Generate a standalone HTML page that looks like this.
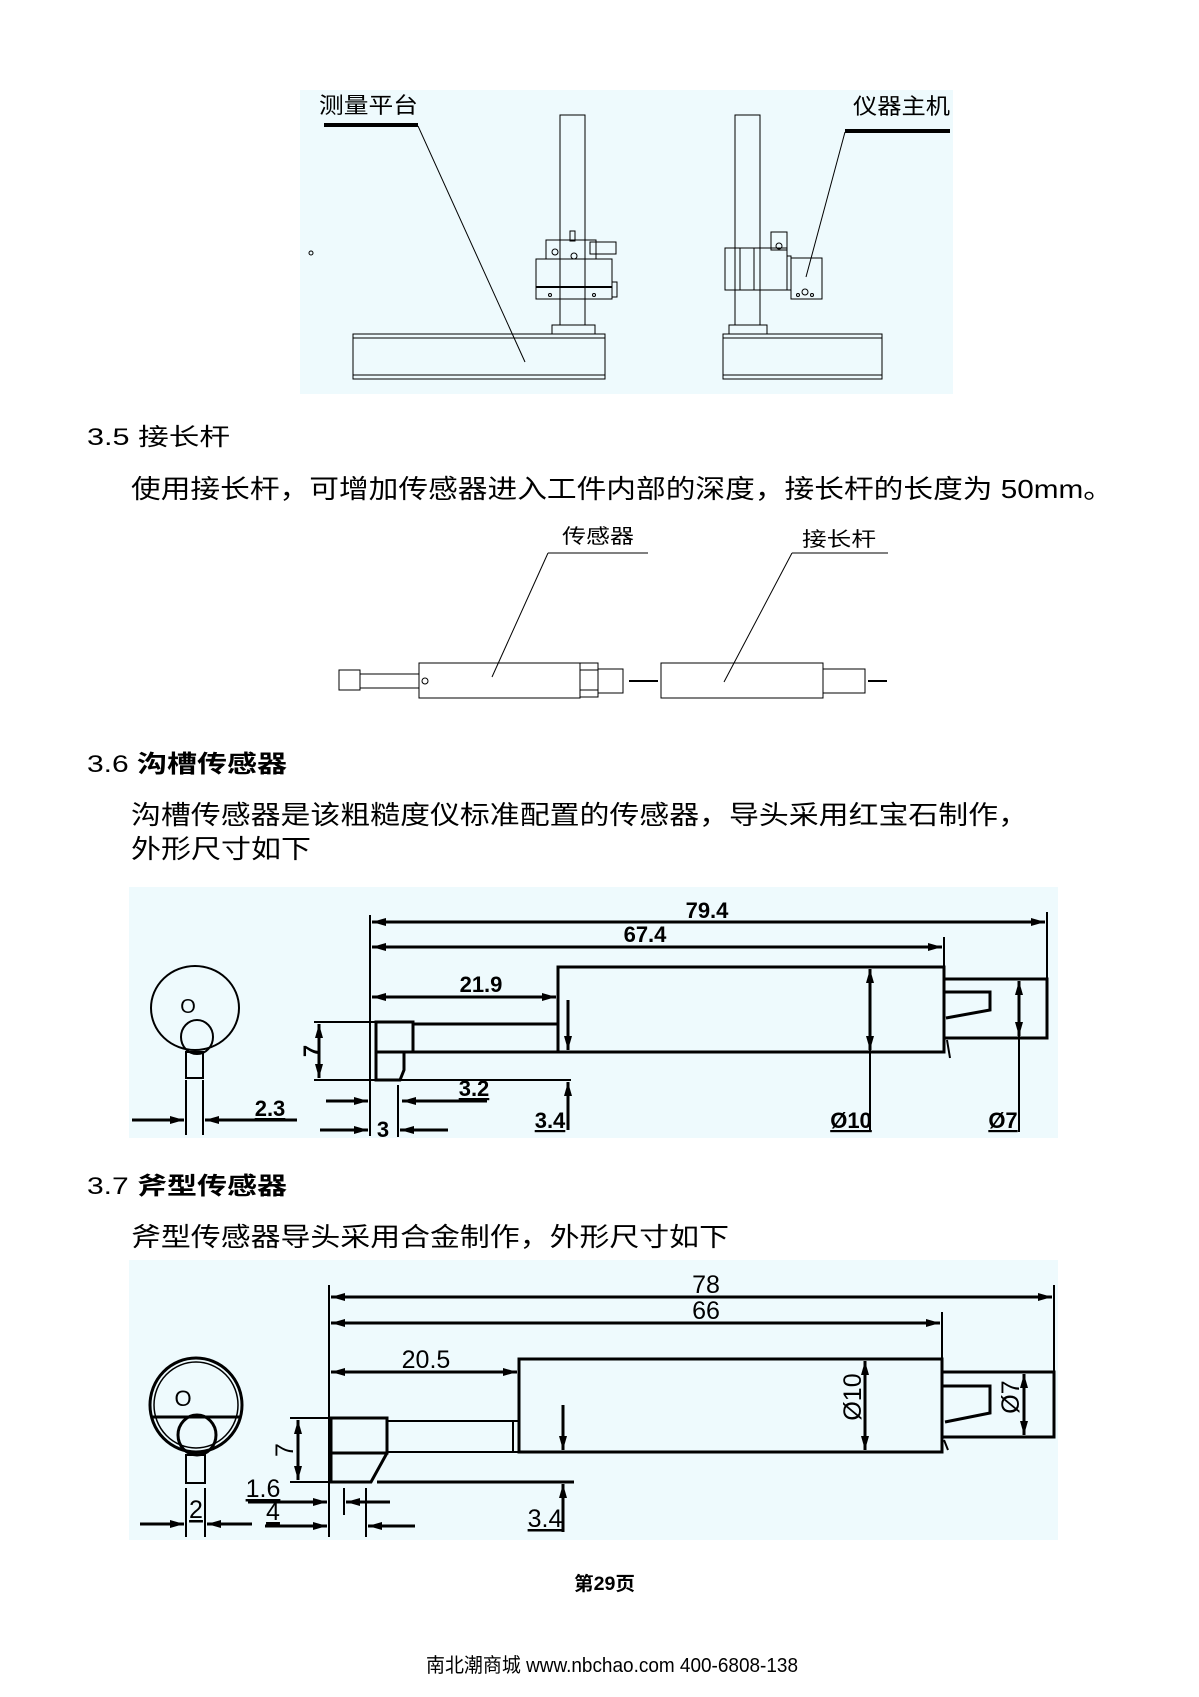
<!DOCTYPE html>
<html><head><meta charset="utf-8"><style>
html,body{margin:0;padding:0;background:#fff;}
svg{display:block;}
text{font-family:"Liberation Sans","Noto Sans CJK SC",sans-serif;fill:#000;}
</style></head><body>
<svg width="1199" height="1697" viewBox="0 0 1199 1697" xmlns="http://www.w3.org/2000/svg">
<defs>
<marker id="a" viewBox="0 0 14 10" refX="14" refY="5" markerWidth="14" markerHeight="10" markerUnits="userSpaceOnUse" orient="auto-start-reverse"><path d="M0,1 L14,5 L0,9 z" fill="#000"/></marker>
</defs>

<!-- Panel 1 -->
<rect x="300" y="90" width="653" height="304" fill="#eefafd"/>
<text x="319" y="113" font-size="22" textLength="99" lengthAdjust="spacingAndGlyphs" font-family="Noto Serif CJK SC,serif">测量平台</text>
<text x="853" y="114" font-size="22" textLength="97" lengthAdjust="spacingAndGlyphs" font-family="Noto Serif CJK SC,serif">仪器主机</text>
<line x1="324" y1="125" x2="418" y2="125" stroke="#000" stroke-width="4"/>
<line x1="845" y1="131" x2="950" y2="131" stroke="#000" stroke-width="4"/>
<g stroke="#000" stroke-width="1" fill="none">
<line x1="418" y1="126" x2="525" y2="362"/>
<line x1="845" y1="132" x2="806" y2="277"/>
<circle cx="311" cy="253" r="2"/>
<rect x="560" y="115" width="25" height="210"/>
<rect x="546" y="240" width="50" height="19"/>
<rect x="590" y="242" width="26" height="12"/>
<rect x="570" y="231" width="5" height="10"/>
<circle cx="555" cy="252" r="3"/>
<circle cx="574" cy="256" r="3"/>
<rect x="536" y="259" width="76" height="40"/>
<line x1="536" y1="287" x2="612" y2="287" stroke-width="2"/>
<rect x="612" y="282" width="5" height="15"/>
<circle cx="550" cy="295" r="1.5"/><circle cx="594" cy="295" r="1.5"/>
<rect x="552" y="325" width="43" height="9"/>
<rect x="353" y="334" width="252" height="45"/>
<line x1="353" y1="338" x2="605" y2="338"/><line x1="353" y1="375" x2="605" y2="375"/>
<rect x="735" y="115" width="25" height="210"/>
<rect x="725" y="248" width="62" height="42"/>
<line x1="740" y1="248" x2="740" y2="290"/><line x1="754" y1="248" x2="754" y2="290"/>
<rect x="771" y="232" width="16" height="18"/>
<circle cx="779" cy="246" r="3"/>
<rect x="787" y="256" width="4" height="34"/>
<rect x="791" y="258" width="31" height="41"/>
<circle cx="805" cy="292" r="3"/><circle cx="798" cy="295" r="1.5"/><circle cx="812" cy="295" r="1.5"/>
<rect x="729" y="325" width="38" height="9"/>
<rect x="723" y="334" width="159" height="45"/>
<line x1="723" y1="338" x2="882" y2="338"/><line x1="723" y1="375" x2="882" y2="375"/>
</g>

<!-- 3.5 -->
<text x="87" y="445" font-size="24" textLength="143" lengthAdjust="spacingAndGlyphs">3.5  接长杆</text>
<text x="131" y="498" font-size="26" textLength="982" lengthAdjust="spacingAndGlyphs">使用接长杆，可增加传感器进入工件内部的深度，接长杆的长度为 50mm。</text>

<text x="562" y="543" font-size="20" textLength="72" lengthAdjust="spacingAndGlyphs" font-family="Noto Serif CJK SC,serif">传感器</text>
<text x="802" y="546" font-size="20" textLength="74" lengthAdjust="spacingAndGlyphs" font-family="Noto Serif CJK SC,serif">接长杆</text>
<g stroke="#000" stroke-width="1" fill="none">
<line x1="548" y1="553" x2="648" y2="553"/>
<line x1="792" y1="553" x2="888" y2="553"/>
<line x1="548" y1="553" x2="492" y2="677"/>
<line x1="792" y1="553" x2="724" y2="682"/>
<rect x="339" y="670" width="21" height="20"/>
<rect x="360" y="674" width="59" height="14"/>
<circle cx="425" cy="681" r="3"/>
<rect x="419" y="663" width="161" height="35"/>
<rect x="580" y="663" width="18" height="7"/>
<rect x="580" y="690" width="18" height="7"/>
<rect x="598" y="669" width="25" height="24"/>
<line x1="629" y1="681" x2="658" y2="681" stroke-width="2"/>
<rect x="661" y="663" width="162" height="35"/>
<rect x="823" y="669" width="42" height="24"/>
<line x1="868" y1="681" x2="887" y2="681" stroke-width="2"/>
</g>

<!-- 3.6 -->
<text x="87" y="772" font-size="24" textLength="200" lengthAdjust="spacingAndGlyphs"><tspan>3.6  </tspan><tspan font-weight="bold">沟槽传感器</tspan></text>
<text x="131" y="824" font-size="26" textLength="897" lengthAdjust="spacingAndGlyphs">沟槽传感器是该粗糙度仪标准配置的传感器，导头采用红宝石制作，</text>
<text x="131" y="858" font-size="26" textLength="180" lengthAdjust="spacingAndGlyphs">外形尺寸如下</text>

<rect x="129" y="887" width="929" height="251" fill="#eefafd"/>
<g stroke="#000" stroke-width="3" fill="none">
<line x1="370" y1="915" x2="370" y2="1136" stroke-width="2"/>
<line x1="1047" y1="912" x2="1047" y2="980" stroke-width="2"/>
<line x1="944" y1="937" x2="944" y2="967" stroke-width="2"/>
<line x1="372" y1="922" x2="1045" y2="922" marker-start="url(#a)" marker-end="url(#a)"/>
<line x1="372" y1="947" x2="942" y2="947" marker-start="url(#a)" marker-end="url(#a)"/>
<line x1="372" y1="997" x2="556" y2="997" marker-start="url(#a)" marker-end="url(#a)"/>
<rect x="558" y="967" width="386" height="85"/>
<line x1="568" y1="1000" x2="568" y2="1050" marker-end="url(#a)"/>
<line x1="870" y1="969" x2="870" y2="1050" marker-start="url(#a)" marker-end="url(#a)"/>
<line x1="870" y1="1050" x2="870" y2="1132" stroke-width="2"/>
<rect x="944" y="979" width="103" height="59"/>
<polyline points="944,992 990,992 990,1010 946,1018"/>
<line x1="947" y1="1040" x2="950" y2="1058" stroke-width="2"/>
<line x1="1019" y1="981" x2="1019" y2="1036" marker-start="url(#a)" marker-end="url(#a)"/>
<line x1="1019" y1="1036" x2="1019" y2="1132" stroke-width="2"/>
<line x1="413" y1="1024" x2="558" y2="1024"/>
<line x1="413" y1="1052" x2="558" y2="1052"/>
<rect x="376" y="1022" width="37" height="30"/>
<polyline points="376,1052 376,1080 400,1080 404,1070 404,1052"/>
<line x1="314" y1="1022" x2="376" y2="1022" stroke-width="2"/>
<line x1="314" y1="1080" x2="571" y2="1080" stroke-width="2"/>
<line x1="319" y1="1024" x2="319" y2="1078" marker-start="url(#a)" marker-end="url(#a)"/>
<line x1="568" y1="1130" x2="568" y2="1082" marker-end="url(#a)"/>
<line x1="398" y1="1085" x2="398" y2="1137" stroke-width="2"/>
<line x1="326" y1="1101" x2="368" y2="1101" marker-end="url(#a)"/>
<line x1="487" y1="1101" x2="402" y2="1101" marker-end="url(#a)"/>
<line x1="320" y1="1130" x2="368" y2="1130" marker-end="url(#a)"/>
<line x1="448" y1="1130" x2="400" y2="1130" marker-end="url(#a)"/>
<ellipse cx="195" cy="1008" rx="44" ry="42" stroke-width="2"/>
<ellipse cx="197" cy="1037" rx="16" ry="17" stroke-width="2"/>
<rect x="186" y="1052" width="17" height="26" stroke-width="2"/>
<line x1="186" y1="1080" x2="186" y2="1135" stroke-width="2"/>
<line x1="203" y1="1080" x2="203" y2="1135" stroke-width="2"/>
<line x1="132" y1="1120" x2="184" y2="1120" marker-end="url(#a)"/>
<line x1="297" y1="1120" x2="205" y2="1120" marker-end="url(#a)"/>
</g>
<g font-weight="bold" font-size="22">
<text x="707" y="918" text-anchor="middle">79.4</text>
<text x="645" y="942" text-anchor="middle">67.4</text>
<text x="481" y="992" text-anchor="middle">21.9</text>
<text x="188" y="1013" text-anchor="middle" font-weight="normal" font-size="20">O</text>
<text x="312" y="1058" text-anchor="middle" transform="rotate(-90 312 1051)">7</text>
<text x="474" y="1096" text-anchor="middle" text-decoration="underline">3.2</text>
<text x="383" y="1137" text-anchor="middle">3</text>
<text x="550" y="1128" text-anchor="middle" text-decoration="underline">3.4</text>
<text x="851" y="1128" text-anchor="middle" text-decoration="underline">Ø10</text>
<text x="1003" y="1128" text-anchor="middle" text-decoration="underline">Ø7</text>
<text x="270" y="1116" text-anchor="middle" text-decoration="underline">2.3</text>
</g>

<!-- 3.7 -->
<text x="87" y="1194" font-size="24" textLength="200" lengthAdjust="spacingAndGlyphs"><tspan>3.7  </tspan><tspan font-weight="bold">斧型传感器</tspan></text>
<text x="131" y="1246" font-size="26" textLength="598" lengthAdjust="spacingAndGlyphs">斧型传感器导头采用合金制作，外形尺寸如下</text>

<rect x="129" y="1260" width="929" height="280" fill="#eefafd"/>
<g stroke="#000" stroke-width="3" fill="none">
<line x1="329" y1="1285" x2="329" y2="1537" stroke-width="2"/>
<line x1="1054" y1="1285" x2="1054" y2="1372" stroke-width="2"/>
<line x1="942" y1="1312" x2="942" y2="1359" stroke-width="2"/>
<line x1="331" y1="1297" x2="1052" y2="1297" marker-start="url(#a)" marker-end="url(#a)"/>
<line x1="331" y1="1323" x2="940" y2="1323" marker-start="url(#a)" marker-end="url(#a)"/>
<line x1="331" y1="1372" x2="517" y2="1372" marker-start="url(#a)" marker-end="url(#a)"/>
<rect x="519" y="1359" width="423" height="93"/>
<line x1="563" y1="1405" x2="563" y2="1450" marker-end="url(#a)"/>
<line x1="865" y1="1361" x2="865" y2="1450" marker-start="url(#a)" marker-end="url(#a)"/>
<rect x="942" y="1372" width="112" height="65"/>
<polyline points="942,1386 990,1386 990,1413 945,1422"/>
<line x1="944" y1="1440" x2="948" y2="1450" stroke-width="2"/>
<line x1="1024" y1="1374" x2="1024" y2="1435" marker-start="url(#a)" marker-end="url(#a)"/>
<rect x="387" y="1421" width="126" height="31" stroke-width="2"/>
<rect x="513" y="1421" width="6" height="31" stroke-width="2"/>
<rect x="331" y="1418" width="56" height="35"/>
<polyline points="331,1453 331,1482 371,1482 387,1453"/>
<line x1="290" y1="1418" x2="331" y2="1418" stroke-width="2"/>
<line x1="290" y1="1482" x2="331" y2="1482" stroke-width="2"/>
<line x1="377" y1="1482" x2="574" y2="1482"/>
<line x1="298" y1="1420" x2="298" y2="1480" marker-start="url(#a)" marker-end="url(#a)"/>
<line x1="563" y1="1532" x2="563" y2="1484" marker-end="url(#a)"/>
<line x1="344" y1="1488" x2="344" y2="1515" stroke-width="2"/>
<line x1="366" y1="1488" x2="366" y2="1537" stroke-width="2"/>
<line x1="248" y1="1502" x2="327" y2="1502" marker-end="url(#a)"/>
<line x1="390" y1="1502" x2="346" y2="1502" marker-end="url(#a)"/>
<line x1="265" y1="1526" x2="327" y2="1526" marker-end="url(#a)"/>
<line x1="415" y1="1526" x2="368" y2="1526" marker-end="url(#a)"/>
<ellipse cx="196" cy="1405" rx="46" ry="47" stroke-width="3"/>
<ellipse cx="196" cy="1405" rx="42" ry="43" stroke-width="1.5"/>
<line x1="152" y1="1417" x2="240" y2="1417"/>
<ellipse cx="197" cy="1435" rx="19" ry="20"/>
<rect x="186" y="1455" width="19" height="28" stroke-width="2"/>
<line x1="186" y1="1488" x2="186" y2="1537" stroke-width="2"/>
<line x1="205" y1="1488" x2="205" y2="1537" stroke-width="2"/>
<line x1="140" y1="1524" x2="184" y2="1524" marker-end="url(#a)"/>
<line x1="252" y1="1524" x2="207" y2="1524" marker-end="url(#a)"/>
</g>
<g font-size="25">
<text x="706" y="1293" text-anchor="middle">78</text>
<text x="706" y="1319" text-anchor="middle">66</text>
<text x="426" y="1368" text-anchor="middle">20.5</text>
<text x="183" y="1406" text-anchor="middle" font-size="22">O</text>
<text x="284" y="1459" text-anchor="middle" transform="rotate(-90 284 1450)">7</text>
<text x="860" y="1414" text-anchor="middle" transform="rotate(-90 852 1405)">Ø10</text>
<text x="1018" y="1414" text-anchor="middle" transform="rotate(-90 1010 1405)">Ø7</text>
<text x="545" y="1527" text-anchor="middle" text-decoration="underline">3.4</text>
<text x="263" y="1497" text-anchor="middle" text-decoration="underline">1.6</text>
<text x="273" y="1520" text-anchor="middle" text-decoration="underline">4</text>
<text x="196" y="1518" text-anchor="middle" text-decoration="underline">2</text>
</g>

<text x="574" y="1590" font-size="19" font-weight="bold" textLength="61" lengthAdjust="spacingAndGlyphs">第29页</text>
<text x="426" y="1672" font-size="20" textLength="372" lengthAdjust="spacingAndGlyphs">南北潮商城 www.nbchao.com 400-6808-138</text>
</svg>
</body></html>
